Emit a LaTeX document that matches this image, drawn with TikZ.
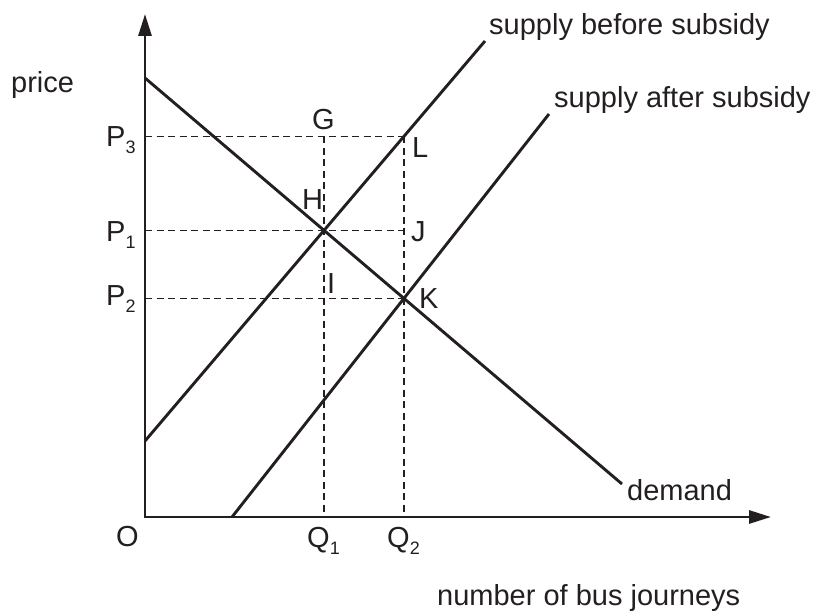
\documentclass[tikz,border=0pt]{standalone}
\usepackage{fontspec}
\setmainfont{Liberation Sans}
\usetikzlibrary{arrows.meta}
\definecolor{ink}{HTML}{231F20}
\newcommand{\subx}[1]{\raisebox{-7pt}{\fontsize{18}{18}\selectfont #1}}
\begin{document}
\begin{tikzpicture}[x=1pt,y=-1pt,
  curve/.style={line width=2.9pt,draw=ink},
  axis/.style={line width=2.9pt,draw=ink,-{Triangle[length=22pt,width=13pt]}},
  guide/.style={line width=1.2pt,draw=ink,dash pattern=on 7pt off 4.5pt},
  lbl/.style={anchor=base west,inner sep=0pt,text=ink,font=\fontsize{29}{31}\selectfont}]
\useasboundingbox (0,0) rectangle (816,612);
% coordinates
\coordinate (O) at (145,517);
\coordinate (Ytip) at (145,14);
\coordinate (Xtip) at (771,517);
\coordinate (D1) at (145,78);
\coordinate (D2) at (622,484);
\coordinate (S1a) at (145,441);
\coordinate (S1b) at (485,41);
\coordinate (S2a) at (232,517);
\coordinate (S2b) at (549,114);
\coordinate (H) at (324,230.4);
\coordinate (G) at (324,136.5);
\coordinate (L) at (404,136.5);
\coordinate (J) at (404,230.4);
\coordinate (K) at (404,298.5);
\coordinate (Y3) at (145,136.5);
\coordinate (Y1) at (145,230.4);
\coordinate (Y2) at (145,298.5);
\coordinate (Q1) at (324,517);
\coordinate (Q2) at (404,517);
% guides
\draw[guide] (Y3) -- (L);
\draw[guide] (Y1) -- (J);
\draw[guide] (Y2) -- (K);
\draw[guide] (G) -- (Q1);
\draw[guide] (L) -- (Q2);
% curves
\draw[curve] (D1) -- (D2);
\draw[curve] (S1a) -- (S1b);
\draw[curve] (S2a) -- (S2b);
% axes
\draw[axis] (O) -- (Ytip);
\draw[axis] ([xshift=-1.45pt]O) -- (Xtip);
% labels
\node[lbl] (tprice) at (11,93) {price};
\node[lbl] (tP3) at (106,147) {P\subx{3}};
\node[lbl] (tP1) at (106,242) {P\subx{1}};
\node[lbl] (tP2) at (106,305) {P\subx{2}};
\node[lbl] (tG) at (312,130) {G};
\node[lbl] (tL) at (412,158) {L};
\node[lbl] (tH) at (302,210) {H};
\node[lbl] (tJ) at (411,242) {J};
\node[lbl] (tI) at (327,293) {I};
\node[lbl] (tK) at (419,308) {K};
\node[lbl] (tO) at (116,546) {O};
\node[lbl] (tQ1) at (307,547) {Q\subx{1}};
\node[lbl] (tQ2) at (387,547) {Q\subx{2}};
\node[lbl] (tdem) at (627,500) {demand};
\node[lbl] (tsb) at (489,35) {supply before subsidy};
\node[lbl] (tsa) at (554,108) {supply after subsidy};
\node[lbl] (tnum) at (437,605) {number of bus journeys};
\end{tikzpicture}
\end{document}
